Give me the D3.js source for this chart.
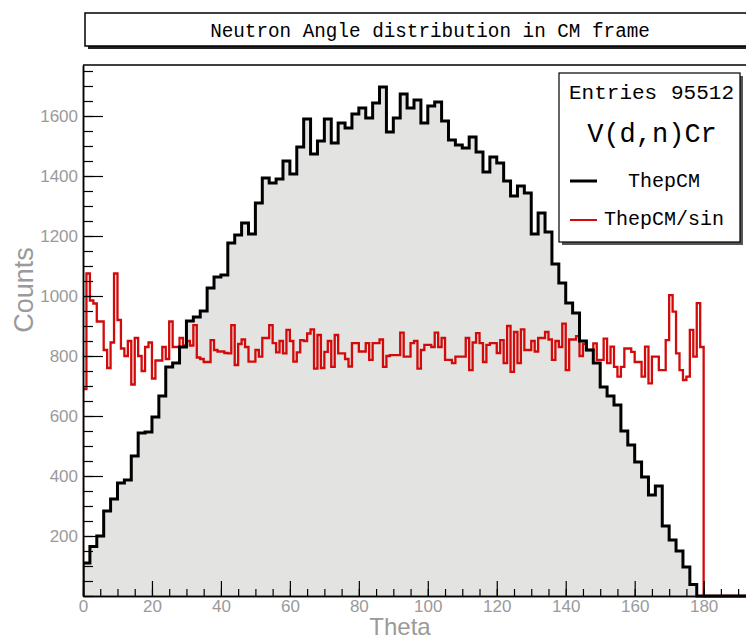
<!DOCTYPE html>
<html>
<head>
<meta charset="utf-8">
<script src="https://cdn.jsdelivr.net/npm/d3@7"></script>
<style>
  html, body { margin: 0; padding: 0; background: #ffffff; }
  svg { display: block; }
</style>
</head>
<body>
<svg id="chart" width="746" height="639"></svg>
<script>
// Neutron angle histogram: ThepCM in 2-degree bins, ThepCM/sin in 1-degree bins
const titleText = "Neutron Angle distribution in CM frame";
const xTitle = "Theta";
const yTitle = "Counts";
const entriesLabel = "Entries";
const entriesValue = "95512";
const reactionLabel = "V(d,n)Cr";
const seriesNames = ["ThepCM", "ThepCM/sin"];

const xTicks = [0, 20, 40, 60, 80, 100, 120, 140, 160, 180];
const yTicks = [200, 400, 600, 800, 1000, 1200, 1400, 1600];

// ThepCM counts, bins of 2 degrees starting at 0
const thepCM = [
  110, 165, 200, 283, 323, 377, 387, 467, 543, 547,
  597, 667, 763, 777, 830, 917, 930, 950, 1027, 1063,
  1070, 1177, 1203, 1243, 1207, 1310, 1393, 1377, 1390, 1450,
  1407, 1497, 1590, 1473, 1517, 1590, 1510, 1577, 1560, 1607,
  1627, 1593, 1643, 1697, 1547, 1593, 1673, 1627, 1653, 1577,
  1633, 1647, 1583, 1520, 1503, 1493, 1530, 1480, 1413, 1463,
  1443, 1383, 1333, 1367, 1343, 1207, 1277, 1213, 1107, 1043,
  977, 943, 850, 820, 777, 697, 667, 637, 550, 503,
  447, 397, 337, 367, 233, 187, 150, 97, 38, 0,
  0, 0, 0, 0, 0, 0, 0, 0, 0, 0
];

// ThepCM/sin counts, bins of 1 degree starting at 0
const thepCMsin = [
  690, 1075, 985, 975, 915, 915, 820, 760, 845, 1075,
  920, 825, 800, 850, 705, 860, 800, 750, 830, 845,
  725, 785, 785, 830, 790, 915, 830, 830, 860, 835,
  850, 835, 903, 795, 790, 780, 780, 853, 820, 815,
  815, 810, 809, 903, 770, 840, 855, 830, 781, 781,
  820, 798, 860, 860, 903, 843, 812, 850, 809, 887,
  850, 781, 812, 853, 850, 875, 889, 758, 870, 760,
  814, 850, 764, 870, 809, 809, 790, 765, 843, 843,
  815, 815, 843, 787, 843, 843, 855, 764, 800, 803,
  803, 803, 878, 798, 798, 843, 850, 758, 820, 837,
  837, 830, 878, 830, 860, 787, 787, 776, 798, 798,
  798, 860, 753, 845, 876, 843, 780, 837, 843, 843,
  810, 853, 776, 900, 747, 880, 776, 889, 820, 820,
  850, 815, 860, 860, 880, 855, 787, 850, 830, 908,
  753, 855, 855, 866, 800, 840, 820, 820, 842, 787,
  787, 858, 776, 831, 764, 731, 764, 825, 825, 814,
  780, 780, 731, 831, 709, 798, 798, 753, 753, 853,
  1003, 948, 809, 753, 720, 731, 887, 798, 976, 830
];

const svg = d3.select("#chart");
const grayText = "#9a9a9a";
const redColor = "#d20a0a";

const x = d3.scaleLinear().domain([0, 200]).range([83, 772.6]);
const y = d3.scaleLinear().domain([0, 1770]).range([596, 65]);

// frame top border
svg.append("line")
  .attr("x1", x(0)).attr("x2", 746).attr("y1", y(1770)).attr("y2", y(1770))
  .attr("stroke", "#000").attr("stroke-width", 1.5);

svg.append("clipPath").attr("id", "frameClip")
  .append("rect").attr("x", x(0)).attr("y", y(1770)).attr("width", 700).attr("height", y(0) - y(1770) + 3);

// step points from bin contents
function stepPoints(values, width, upTo) {
  const pts = [[0, 0]];
  values.forEach((v, i) => pts.push([i * width, v]));
  pts.push([values.length * width, 0]);
  if (upTo > values.length * width) pts.push([upTo, 0]);
  return pts;
}

const blackPts = stepPoints(thepCM, 2, 200);
const redPts = stepPoints(thepCMsin, 1, 200);

const area = d3.area().curve(d3.curveStepAfter)
  .x(d => x(d[0])).y0(y(0)).y1(d => y(d[1]));
const line = d3.line().curve(d3.curveStepAfter)
  .x(d => x(d[0])).y(d => y(d[1]));

const plot = svg.append("g").attr("clip-path", "url(#frameClip)");

plot.append("path").datum(blackPts)
  .attr("d", area).attr("fill", "#e3e4e1").attr("stroke", "none");

// axes
svg.append("g").attr("transform", `translate(0,${y(0)})`)
  .call(d3.axisBottom(x).tickValues(xTicks).tickSizeInner(-15).tickSizeOuter(0).tickPadding(4));
svg.append("g").attr("transform", `translate(0,${y(0)})`)
  .call(d3.axisBottom(x).tickValues(d3.range(0, 201, 5)).tickSizeInner(-7).tickSizeOuter(0).tickFormat(""));

svg.append("g").attr("transform", `translate(${x(0)},0)`)
  .call(d3.axisLeft(y).tickValues(yTicks).tickFormat(d3.format("d"))
    .tickSizeInner(-20).tickSizeOuter(0).tickPadding(5));
svg.append("g").attr("transform", `translate(${x(0)},0)`)
  .call(d3.axisLeft(y).tickValues(d3.range(0, 1770, 50)).tickSizeInner(-10).tickSizeOuter(0).tickFormat(""));

svg.selectAll(".domain").attr("stroke", "#000").attr("stroke-width", 1.5);
svg.selectAll(".tick line").attr("stroke", "#000").attr("stroke-width", 1.2);
svg.selectAll(".tick text")
  .attr("fill", grayText)
  .style("font-family", "'Liberation Sans', Arial, sans-serif")
  .style("font-size", "17px");

// histograms
plot.append("path").datum(redPts)
  .attr("d", line).attr("fill", "none").attr("stroke", redColor).attr("stroke-width", 2.3);
plot.append("path").datum(blackPts)
  .attr("d", line).attr("fill", "none").attr("stroke", "#000").attr("stroke-width", 3)
  .attr("stroke-linejoin", "miter");

// axis titles
svg.append("text")
  .attr("x", 400).attr("y", 635)
  .attr("text-anchor", "middle")
  .attr("fill", grayText)
  .style("font-family", "'Liberation Sans', Arial, sans-serif")
  .style("font-size", "24px")
  .text(xTitle);

svg.append("text")
  .attr("transform", "translate(33,290) rotate(-90)")
  .attr("text-anchor", "middle")
  .attr("fill", grayText)
  .style("font-family", "'Liberation Sans', Arial, sans-serif")
  .style("font-size", "27px")
  .text(yTitle);

// title pave with shadow
svg.append("rect").attr("x", 88).attr("y", 16).attr("width", 700).attr("height", 33)
  .attr("fill", "#222");
svg.append("rect").attr("x", 85).attr("y", 13).attr("width", 700).attr("height", 33)
  .attr("fill", "#fff").attr("stroke", "#000").attr("stroke-width", 1.5);
svg.append("text")
  .attr("x", 430).attr("y", 36.5)
  .attr("text-anchor", "middle")
  .attr("fill", "#000")
  .style("font-family", "'Liberation Mono', 'Courier New', monospace")
  .style("font-size", "19.3px")
  .text(titleText);

// legend pave with shadow
svg.append("rect").attr("x", 562).attr("y", 76).attr("width", 181).attr("height", 169)
  .attr("fill", "#555");
svg.append("rect").attr("x", 559).attr("y", 73).attr("width", 181).attr("height", 169)
  .attr("fill", "#fff").attr("stroke", "#000").attr("stroke-width", 1.2);

const mono = "'Liberation Mono', 'Courier New', monospace";
svg.append("text").attr("x", 569).attr("y", 99)
  .style("font-family", mono).style("font-size", "21px").attr("fill", "#000")
  .text(entriesLabel);
svg.append("text").attr("x", 734).attr("y", 99).attr("text-anchor", "end")
  .style("font-family", mono).style("font-size", "21px").attr("fill", "#000")
  .text(entriesValue);
svg.append("text").attr("x", 652).attr("y", 142).attr("text-anchor", "middle")
  .style("font-family", mono).style("font-size", "27px").attr("fill", "#000")
  .text(reactionLabel);

svg.append("line").attr("x1", 570).attr("x2", 597).attr("y1", 181).attr("y2", 181)
  .attr("stroke", "#000").attr("stroke-width", 3);
svg.append("text").attr("x", 628).attr("y", 187)
  .style("font-family", mono).style("font-size", "20px").attr("fill", "#000")
  .text(seriesNames[0]);

svg.append("line").attr("x1", 570).attr("x2", 597).attr("y1", 220).attr("y2", 220)
  .attr("stroke", redColor).attr("stroke-width", 2);
svg.append("text").attr("x", 604).attr("y", 225)
  .style("font-family", mono).style("font-size", "20px").attr("fill", "#000")
  .text(seriesNames[1]);
</script>
</body>
</html>
